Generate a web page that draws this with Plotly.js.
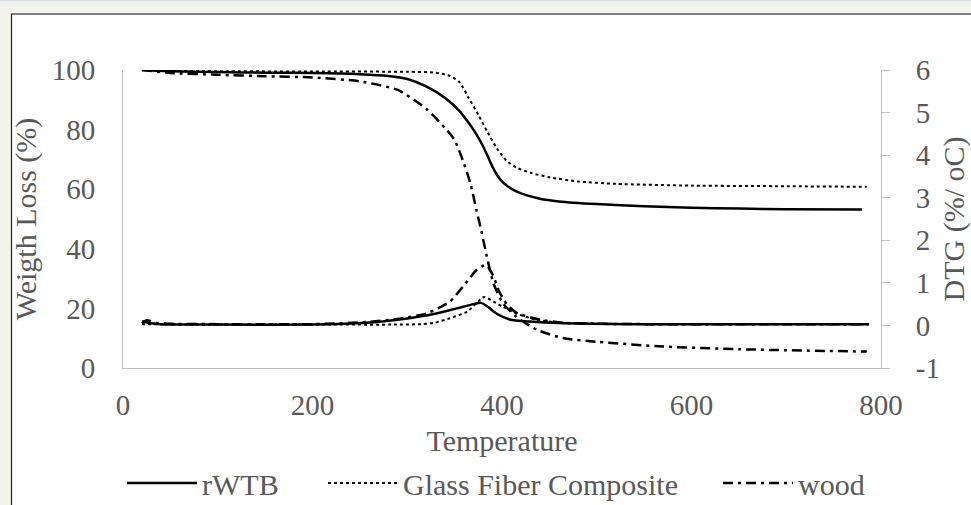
<!DOCTYPE html>
<html>
<head>
<meta charset="utf-8">
<script src="https://cdn.plot.ly/plotly-3.0.1.min.js"></script>
<style>html,body{margin:0;padding:0;background:#f3f3ee;}#chart{width:971px;height:505px;}</style>
</head>
<body>
<div id="chart"></div>
<script>
// ---- Data ----
const legendNames = ["rWTB", "Glass Fiber Composite", "wood"];

// TG (left axis, Weight Loss %)
const rwtbTgT   = [20, 50, 100, 150, 200, 250, 280, 300, 320, 340, 355, 365, 370, 375, 380, 385, 390, 395, 400, 405, 410, 420, 440, 460, 500, 550, 600, 650, 700, 780];
const rwtbTg    = [100, 99.6, 99.3, 99.1, 99, 98.6, 98, 97, 94.5, 90.6, 86.3, 82.2, 79.9, 77.3, 74.4, 71, 67.5, 64.7, 62.6, 61.2, 60.1, 58.6, 56.8, 55.9, 55, 54.3, 53.8, 53.5, 53.3, 53.2];

const glassTgT  = [20, 100, 200, 300, 330, 345, 355, 365, 375, 385, 395, 405, 415, 430, 450, 480, 520, 600, 700, 785];
const glassTg   = [100, 99.6, 99.5, 99.4, 99.1, 98, 96, 90.5, 85, 79, 73.5, 69.5, 67.3, 65.5, 64, 62.6, 61.8, 61.2, 61, 60.8];

const woodTgT   = [20, 50, 100, 150, 200, 250, 290, 320, 340, 350, 360, 367, 373, 378, 384, 391, 401, 415, 437, 465, 500, 570, 650, 785];
const woodTg    = [100, 99, 98.4, 97.9, 97.5, 96.2, 93.3, 87, 80.5, 76.5, 68.5, 61.5, 53, 46.3, 37.4, 28.4, 21.7, 17.2, 12.8, 10, 8.8, 7.2, 6.3, 5.5];

// DTG (right axis, %/oC)
const rwtbDtgT  = [20, 30, 40, 60, 100, 200, 257, 292, 328, 352, 370, 378, 386, 394, 408, 429, 465, 550, 787];
const rwtbDtg   = [0.1, 0.05, 0.03, 0.02, 0.02, 0.02, 0.06, 0.14, 0.27, 0.4, 0.5, 0.53, 0.42, 0.28, 0.14, 0.09, 0.05, 0.03, 0.03];

const glassDtgT = [20, 100, 200, 292, 315, 330, 345, 363, 373, 381, 391, 401, 415, 437, 465, 550, 787];
const glassDtg  = [0.03, 0.02, 0.02, 0.02, 0.03, 0.07, 0.17, 0.32, 0.52, 0.67, 0.56, 0.44, 0.28, 0.13, 0.06, 0.03, 0.03];

const woodDtgT  = [20, 25, 35, 50, 100, 200, 257, 292, 320, 345, 363, 373, 383, 390, 397, 405, 415, 437, 465, 550, 787];
const woodDtg   = [0.05, 0.12, 0.06, 0.04, 0.03, 0.03, 0.08, 0.16, 0.28, 0.56, 1.03, 1.3, 1.42, 1.2, 0.8, 0.5, 0.3, 0.15, 0.06, 0.03, 0.03];

const xTicks = [0, 200, 400, 600, 800];
const yTicks = [0, 20, 40, 60, 80, 100];
const y2Ticks = [-1, 0, 1, 2, 3, 4, 5, 6];
const y2TickText = ["-1", "0", "1", "2", "3", "4", "5", "6"];

// ---- Styles ----
const FONT = "Liberation Serif, Times New Roman, serif";
const GRAY = "#595959";
const solid = {color: "#000", width: 2.5, dash: "solid"};
const dotted = {color: "#000", width: 2, dash: "dot"};
const dashdot = {color: "#000", width: 2.5, dash: "10px,5px,3px,5px"};

const traces = [
  {x: rwtbTgT, y: rwtbTg, name: legendNames[0], legendgroup: "a", legend: "legend", line: solid},
  {x: glassTgT, y: glassTg, name: legendNames[1], legendgroup: "b", legend: "legend2", line: dotted},
  {x: woodTgT, y: woodTg, name: legendNames[2], legendgroup: "c", legend: "legend3", line: dashdot},
  {x: rwtbDtgT, y: rwtbDtg, name: legendNames[0], legendgroup: "a", legend: "legend", line: solid, yaxis: "y2", showlegend: false},
  {x: glassDtgT, y: glassDtg, name: legendNames[1], legendgroup: "b", legend: "legend2", line: dotted, yaxis: "y2", showlegend: false},
  {x: woodDtgT, y: woodDtg, name: legendNames[2], legendgroup: "c", legend: "legend3", line: dashdot, yaxis: "y2", showlegend: false}
].map(t => Object.assign({type: "scatter", mode: "lines"}, t, {line: Object.assign({shape: "spline", smoothing: 0.6}, t.line)}));

const px = v => (v - 123) / 758;       // pixel -> paper x
const py = v => (368 - v) / 298;       // pixel -> paper y
const legBase = {orientation: "h", xref: "container", yref: "container", xanchor: "left", y: 1 - 483 / 505, yanchor: "middle",
                 itemwidth: 70, font: {family: FONT, size: 30, color: GRAY}, bgcolor: "rgba(0,0,0,0)", borderwidth: 0};

const layout = {
  width: 971, height: 505,
  margin: {l: 123, r: 90, t: 70, b: 137, pad: 0},
  paper_bgcolor: "#f3f3ee",
  plot_bgcolor: "#ffffff",
  font: {family: FONT, size: 29, color: GRAY},
  showlegend: true,
  legend: Object.assign({}, legBase, {x: 122 / 971}),
  legend2: Object.assign({}, legBase, {x: 323 / 971}),
  legend3: Object.assign({}, legBase, {x: 718 / 971}),
  xaxis: {range: [0, 800], tickvals: xTicks, ticktext: xTicks.map(String), showgrid: false, zeroline: false,
          showline: true, linecolor: "#bfbfbf", linewidth: 1, ticks: "", ticklabelstandoff: 11,
          tickfont: {family: FONT, size: 29, color: GRAY},
          title: {text: "Temperature", font: {family: FONT, size: 30, color: GRAY}, standoff: 17}},
  yaxis: {range: [0, 100], tickvals: yTicks, showgrid: false, zeroline: false,
          showline: true, linecolor: "#bfbfbf", linewidth: 1, ticks: "", ticklabelstandoff: 21,
          tickfont: {family: FONT, size: 29, color: GRAY},
          title: {text: "Weigth Loss (%)", font: {family: FONT, size: 30, color: GRAY}, standoff: 6}},
  yaxis2: {range: [-1, 6], tickvals: y2Ticks, ticktext: y2TickText, overlaying: "y", side: "right", showgrid: false, zeroline: false,
          showline: true, linecolor: "#bfbfbf", linewidth: 1, ticks: "outside", ticklen: 8, tickcolor: "#bfbfbf",
          ticklabelstandoff: 20, tickfont: {family: FONT, size: 29, color: GRAY},
          title: {text: "DTG (%/ oC)", font: {family: FONT, size: 30, color: GRAY}, standoff: 18}},
  shapes: [
    {type: "rect", xref: "paper", yref: "paper", x0: px(11), x1: px(975), y0: py(14), y1: py(510),
     fillcolor: "#ffffff", line: {width: 0}, layer: "below"},
    {type: "line", xref: "paper", yref: "paper", x0: px(11), x1: px(975), y0: py(14), y1: py(14),
     line: {color: "#808080", width: 2}, layer: "below"},
    {type: "line", xref: "paper", yref: "paper", x0: px(11.5), x1: px(11.5), y0: py(14), y1: py(510),
     line: {color: "#222222", width: 1.2}, layer: "below"},
    {type: "line", xref: "paper", yref: "paper", x0: px(0), x1: px(975), y0: py(0.5), y1: py(0.5),
     line: {color: "#d6dfea", width: 1.5}, layer: "below"}
  ]
};

Plotly.newPlot("chart", traces, layout, {staticPlot: true, displayModeBar: false});
</script>
</body>
</html>
